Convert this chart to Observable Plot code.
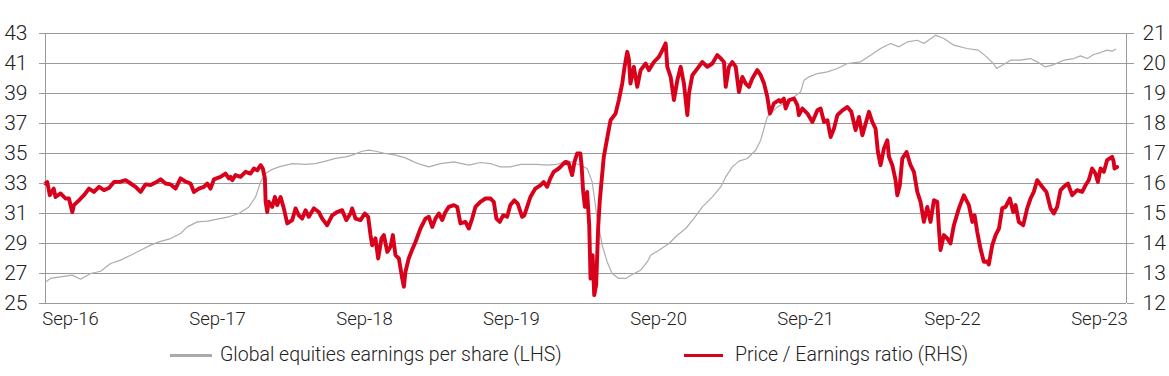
<!DOCTYPE html>
<html>
<head>
<meta charset="utf-8">
<script src="https://cdn.jsdelivr.net/npm/d3@7"></script>
<script src="https://cdn.jsdelivr.net/npm/@observablehq/plot@0.6"></script>
<style>
  html, body { margin: 0; padding: 0; background: #fff; }
  #wrap { position: relative; width: 1169px; height: 376px; font-family: Roboto, "Liberation Sans", sans-serif; font-weight: 300; color: #222; }
  #legend { position: absolute; left: 0; top: 340px; width: 1169px; height: 36px; }
  .sw { position: absolute; top: 14px; height: 3px; }
  .lt { position: absolute; top: 3px; font-size: 19.5px; line-height: 24px; white-space: nowrap; }
</style>
</head>
<body>
<div id="wrap">
  <div id="chart"></div>
  <div id="legend">
    <div class="sw" style="left:170px;width:42px;background:#aaaaaa"></div>
    <div class="lt" style="left:220px">Global equities earnings per share (LHS)</div>
    <div class="sw" style="left:684px;width:39px;background:#d9001b"></div>
    <div class="lt" style="left:735px">Price / Earnings ratio (RHS)</div>
  </div>
</div>
<script>
// ---- Data (decimal year, value) ----
// Global equities earnings per share (LHS)
const epsYears = [2016.535,2016.569,2016.637,2016.717,2016.773,2016.841,2016.909,2016.977,2017.045,2017.113,2017.181,2017.249,2017.306,2017.385,2017.453,2017.499,2017.567,2017.635,2017.703,2017.782,2017.850,2017.918,2017.964,2017.998,2018.032,2018.066,2018.122,2018.213,2018.304,2018.372,2018.440,2018.508,2018.576,2018.621,2018.689,2018.734,2018.780,2018.848,2018.916,2018.984,2019.041,2019.086,2019.143,2019.222,2019.313,2019.415,2019.494,2019.562,2019.630,2019.698,2019.766,2019.880,2019.948,2020.016,2020.084,2020.174,2020.220,2020.254,2020.276,2020.288,2020.322,2020.356,2020.390,2020.435,2020.481,2020.526,2020.583,2020.628,2020.651,2020.707,2020.775,2020.832,2020.889,2020.945,2021.002,2021.070,2021.127,2021.161,2021.206,2021.251,2021.308,2021.365,2021.399,2021.422,2021.444,2021.479,2021.513,2021.557,2021.626,2021.671,2021.694,2021.728,2021.785,2021.853,2021.921,2021.989,2022.079,2022.147,2022.215,2022.283,2022.340,2022.397,2022.465,2022.510,2022.589,2022.646,2022.714,2022.803,2022.880,2022.937,2022.982,2023.005,2023.043,2023.100,2023.168,2023.236,2023.281,2023.337,2023.394,2023.462,2023.530,2023.576,2023.622,2023.666,2023.712,2023.757,2023.791,2023.814];
const epsValues = [26.44,26.67,26.78,26.89,26.62,27.0,27.15,27.67,27.89,28.22,28.55,28.89,29.11,29.33,29.67,30.11,30.44,30.49,30.62,30.78,31.0,31.44,32.11,33.11,33.67,33.89,34.11,34.33,34.27,34.33,34.49,34.67,34.78,34.89,35.15,35.22,35.15,35.0,34.89,34.71,34.44,34.27,34.11,34.33,34.44,34.22,34.4,34.33,34.11,34.11,34.27,34.27,34.22,34.27,34.55,34.22,34.0,33.11,31.55,30.67,28.89,27.77,27.0,26.67,26.67,26.93,27.22,27.77,28.22,28.55,29.0,29.55,30.0,30.67,31.44,32.11,32.77,33.44,34.11,34.49,34.67,35.22,35.89,36.67,37.44,37.77,38.11,38.33,38.77,39.11,39.89,40.11,40.33,40.44,40.67,41.0,41.11,41.55,42.0,42.33,42.11,42.44,42.55,42.33,42.89,42.67,42.22,42.0,41.89,41.44,41.0,40.67,40.89,41.22,41.22,41.33,41.11,40.77,40.93,41.22,41.33,41.51,41.33,41.6,41.73,41.89,41.82,41.95];

// Price / Earnings ratio (RHS)
const peYears = [2016.535,2016.547,2016.564,2016.591,2016.603,2016.637,2016.671,2016.694,2016.717,2016.728,2016.762,2016.796,2016.830,2016.864,2016.898,2016.932,2016.966,2017.000,2017.045,2017.079,2017.113,2017.147,2017.181,2017.215,2017.249,2017.283,2017.317,2017.351,2017.385,2017.419,2017.453,2017.487,2017.521,2017.544,2017.578,2017.612,2017.635,2017.657,2017.680,2017.725,2017.759,2017.782,2017.793,2017.805,2017.827,2017.861,2017.895,2017.929,2017.952,2017.975,2017.998,2018.013,2018.027,2018.032,2018.043,2018.054,2018.077,2018.095,2018.111,2018.134,2018.156,2018.179,2018.213,2018.236,2018.258,2018.281,2018.304,2018.326,2018.360,2018.394,2018.417,2018.451,2018.485,2018.519,2018.553,2018.581,2018.610,2018.621,2018.644,2018.678,2018.707,2018.730,2018.746,2018.757,2018.780,2018.798,2018.821,2018.837,2018.860,2018.882,2018.898,2018.916,2018.939,2018.962,2018.973,2018.984,2019.006,2019.030,2019.052,2019.086,2019.120,2019.143,2019.166,2019.188,2019.211,2019.234,2019.256,2019.279,2019.313,2019.336,2019.358,2019.392,2019.415,2019.438,2019.460,2019.494,2019.528,2019.562,2019.585,2019.603,2019.626,2019.649,2019.676,2019.698,2019.725,2019.748,2019.778,2019.793,2019.812,2019.834,2019.868,2019.902,2019.925,2019.948,2019.970,2019.993,2020.027,2020.050,2020.072,2020.095,2020.118,2020.134,2020.152,2020.174,2020.182,2020.193,2020.205,2020.220,2020.234,2020.243,2020.257,2020.268,2020.281,2020.295,2020.306,2020.333,2020.362,2020.379,2020.413,2020.435,2020.458,2020.474,2020.492,2020.503,2020.514,2020.537,2020.560,2020.583,2020.617,2020.639,2020.673,2020.707,2020.730,2020.753,2020.764,2020.787,2020.809,2020.832,2020.855,2020.877,2020.900,2020.911,2020.934,2020.968,2021.002,2021.036,2021.070,2021.104,2021.127,2021.149,2021.161,2021.183,2021.206,2021.229,2021.251,2021.274,2021.297,2021.319,2021.342,2021.376,2021.399,2021.422,2021.444,2021.462,2021.489,2021.523,2021.535,2021.557,2021.569,2021.592,2021.626,2021.649,2021.659,2021.683,2021.717,2021.751,2021.785,2021.807,2021.830,2021.853,2021.875,2021.898,2021.921,2021.955,2021.989,2022.016,2022.045,2022.068,2022.091,2022.113,2022.136,2022.159,2022.181,2022.197,2022.215,2022.238,2022.261,2022.272,2022.295,2022.317,2022.329,2022.346,2022.363,2022.392,2022.419,2022.442,2022.465,2022.487,2022.510,2022.533,2022.555,2022.578,2022.601,2022.612,2022.623,2022.646,2022.669,2022.691,2022.714,2022.748,2022.782,2022.793,2022.816,2022.840,2022.855,2022.873,2022.895,2022.918,2022.941,2022.952,2022.975,2022.998,2023.021,2023.043,2023.066,2023.095,2023.118,2023.134,2023.156,2023.186,2023.213,2023.236,2023.258,2023.281,2023.315,2023.344,2023.372,2023.394,2023.417,2023.440,2023.462,2023.490,2023.519,2023.553,2023.587,2023.610,2023.632,2023.655,2023.678,2023.694,2023.712,2023.735,2023.757,2023.791,2023.802,2023.807,2023.825];
const peValues = [16.0,16.05,15.61,15.83,15.55,15.67,15.5,15.5,15.05,15.28,15.44,15.61,15.83,15.72,15.89,15.78,15.85,16.05,16.06,16.11,16.0,15.89,15.72,15.97,15.95,16.03,16.14,16.0,15.97,15.83,16.17,16.06,16.0,15.72,15.83,15.89,16.0,15.83,16.14,16.22,16.33,16.17,16.22,16.11,16.28,16.22,16.39,16.33,16.5,16.44,16.61,16.5,16.17,15.39,15.05,15.39,15.22,15.55,15.28,15.55,15.17,14.67,14.78,15.17,14.94,14.83,15.11,14.89,15.17,15.05,14.83,14.61,14.94,15.05,15.11,14.78,15.0,15.17,14.83,14.78,15.0,14.89,14.28,13.94,14.17,13.5,14.17,14.28,13.72,13.89,14.28,13.61,13.5,12.83,12.56,13.06,13.5,13.8,14.05,14.5,14.83,14.89,14.55,14.83,15.0,14.78,15.05,15.22,15.28,15.22,14.67,14.72,14.5,14.83,15.22,15.39,15.5,15.5,15.39,14.83,14.72,14.94,14.89,15.28,15.44,15.33,14.89,14.94,15.22,15.55,15.83,15.94,16.05,15.89,16.17,16.39,16.5,16.61,16.72,16.67,16.28,16.72,17.0,17.0,16.61,15.72,15.22,15.72,14.61,12.83,13.61,12.28,12.61,14.55,15.44,16.89,17.67,18.11,18.33,18.78,19.33,19.89,20.39,20.15,19.33,19.89,19.22,19.78,20.0,19.78,20.05,20.22,20.44,20.67,19.89,19.55,18.78,19.44,19.89,19.33,18.28,19.0,19.61,19.83,20.05,19.89,20.0,20.28,20.17,20.05,19.22,19.89,20.05,19.89,19.05,19.55,19.33,19.22,19.5,19.78,19.61,19.33,18.89,18.33,18.67,18.78,18.72,18.83,18.5,18.78,18.83,18.61,18.28,18.5,18.33,18.05,18.44,18.5,18.05,18.11,17.55,17.83,18.28,18.44,18.55,18.39,17.78,18.22,17.61,17.99,18.39,18.05,17.83,17.05,16.61,17.17,17.44,16.89,16.61,16.11,15.61,15.94,16.83,17.05,16.61,16.39,15.72,15.39,14.72,15.22,14.72,15.44,15.39,14.5,13.78,14.28,14.17,14.0,14.61,15.17,15.61,15.5,15.28,14.72,14.94,14.39,13.83,13.39,13.4,13.3,13.94,14.28,14.5,15.17,15.22,15.5,15.05,15.28,14.72,14.61,15.17,15.5,15.72,16.11,15.89,15.72,15.17,15.0,15.22,15.78,15.89,16.0,15.61,15.78,15.72,15.94,16.11,16.5,16.33,16.05,16.5,16.39,16.78,16.89,16.72,16.5,16.55];

// Axes
const leftTicks = [25, 27, 29, 31, 33, 35, 37, 39, 41, 43];
const rightTickLabels = ["12", "13", "14", "15", "16", "17", "18", "19", "20", "21"];
const xTickYears = [2016.705, 2017.705, 2018.705, 2019.705, 2020.705, 2021.705, 2022.705, 2023.705];
const xTickLabels = ["Sep-16", "Sep-17", "Sep-18", "Sep-19", "Sep-20", "Sep-21", "Sep-22", "Sep-23"];
const xDomainYears = [2016.535, 2023.889];

// ---- helpers ----
function yearToDate(y) {
  const Y = Math.floor(y);
  const a = Date.UTC(Y, 0, 1), b = Date.UTC(Y + 1, 0, 1);
  return new Date(a + (y - Y) * (b - a));
}
// P/E (RHS 12..21) mapped onto the LHS scale (25..43)
const peToLeft = v => 25 + 2 * (v - 12);

const eps = epsYears.map((y, i) => ({date: yearToDate(y), value: epsValues[i]}));
const pe = peYears.map((y, i) => ({date: yearToDate(y), value: peToLeft(peValues[i])}));
const xTicks = xTickYears.map(yearToDate);
const xDomain = xDomainYears.map(yearToDate);

const font = 'Roboto, "Liberation Sans", sans-serif';

const chart = Plot.plot({
  width: 1169,
  height: 340,
  marginLeft: 45,
  marginRight: 43,
  marginTop: 33,
  marginBottom: 37,
  style: {fontFamily: font, fontSize: "20px", fontWeight: 300, color: "#222", background: "#fff"},
  x: {type: "utc", domain: xDomain},
  y: {domain: [25, 43]},
  marks: [
    Plot.gridY(leftTicks, {stroke: "#9a9a9a", strokeOpacity: 1, strokeWidth: 1}),
    Plot.ruleX(xDomain, {stroke: "#9a9a9a", strokeWidth: 1}),
    Plot.lineY(eps, {x: "date", y: "value", stroke: "#adadad", strokeWidth: 1.2}),
    Plot.lineY(pe, {x: "date", y: "value", stroke: "#d9001b", strokeWidth: 3.9, strokeLinejoin: "round"}),
    Plot.axisY(leftTicks, {anchor: "left", tickSize: 6, tickPadding: 12, stroke: "#9a9a9a", fill: "#222", label: null, fontSize: 21}),
    Plot.axisY(leftTicks, {anchor: "right", tickSize: 7, tickPadding: 9, stroke: "#9a9a9a", fill: "#222", label: null, fontSize: 21,
      tickFormat: d => rightTickLabels[leftTicks.indexOf(d)]}),
    Plot.axisX(xTicks, {anchor: "bottom", tickSize: 0, tickPadding: 8, fill: "#222", label: null, fontSize: 18.5,
      tickFormat: d => xTickLabels[xTicks.findIndex(t => +t === +d)]})
  ]
});
document.getElementById("chart").appendChild(chart);
</script>
</body>
</html>
